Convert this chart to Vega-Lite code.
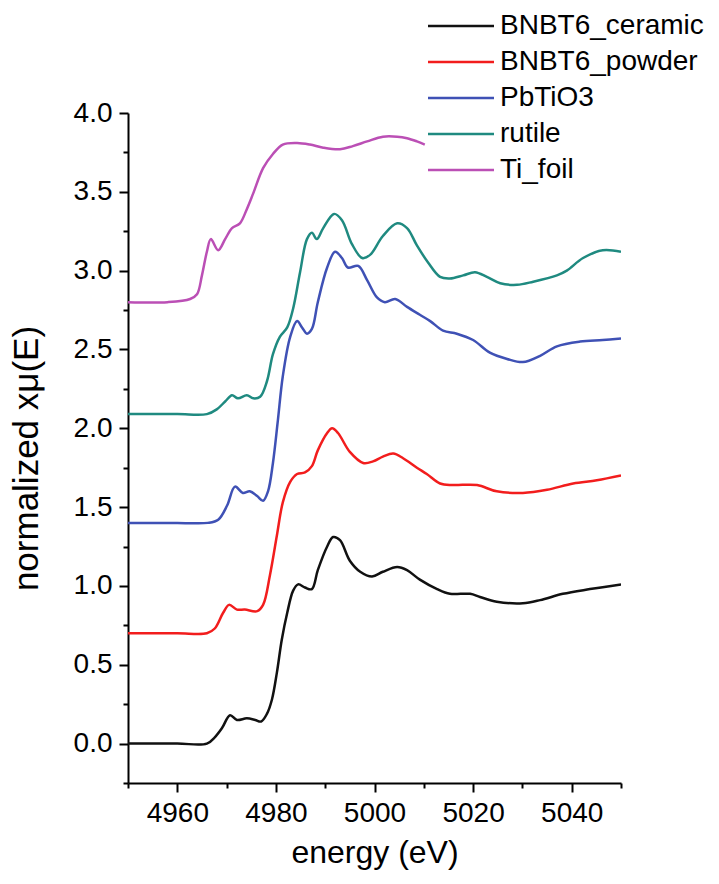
{
  "$schema": "https://vega.github.io/schema/vega-lite/v6.json",
  "autosize": "none",
  "padding": {"left": 128, "top": 113, "right": 98, "bottom": 101},
  "width": 493,
  "height": 670,
  "background": "white",
  "config": {
    "view": {"stroke": null},
    "font": "Liberation Sans",
    "axis": {"domainColor": "black", "tickColor": "black", "labelColor": "black", "titleColor": "black", "grid": false, "domainWidth": 2, "tickWidth": 2, "labelFont": "Liberation Sans", "titleFont": "Liberation Sans", "titleFontWeight": "normal"},
    "legend": {"labelFont": "Liberation Sans"}
  },
  "data": {"values": [
    {"s":"BNBT6_ceramic","e":4950,"v":0},{"s":"BNBT6_ceramic","e":4960,"v":0},{"s":"BNBT6_ceramic","e":4966,"v":0.0},{"s":"BNBT6_ceramic","e":4967.6,"v":0.04},{"s":"BNBT6_ceramic","e":4969.1,"v":0.10},{"s":"BNBT6_ceramic","e":4970.7,"v":0.18},{"s":"BNBT6_ceramic","e":4972.1,"v":0.15},{"s":"BNBT6_ceramic","e":4974.1,"v":0.16},{"s":"BNBT6_ceramic","e":4975.8,"v":0.15},{"s":"BNBT6_ceramic","e":4977,"v":0.14},{"s":"BNBT6_ceramic","e":4978.2,"v":0.19},{"s":"BNBT6_ceramic","e":4979.2,"v":0.28},{"s":"BNBT6_ceramic","e":4980.2,"v":0.45},{"s":"BNBT6_ceramic","e":4981.2,"v":0.66},{"s":"BNBT6_ceramic","e":4982.3,"v":0.83},{"s":"BNBT6_ceramic","e":4983.5,"v":0.97},{"s":"BNBT6_ceramic","e":4984.5,"v":1.01},{"s":"BNBT6_ceramic","e":4985.9,"v":0.99},{"s":"BNBT6_ceramic","e":4987.3,"v":0.98},{"s":"BNBT6_ceramic","e":4988.5,"v":1.10},{"s":"BNBT6_ceramic","e":4990.4,"v":1.25},{"s":"BNBT6_ceramic","e":4991.6,"v":1.31},{"s":"BNBT6_ceramic","e":4993,"v":1.29},{"s":"BNBT6_ceramic","e":4995,"v":1.16},{"s":"BNBT6_ceramic","e":4997.1,"v":1.09},{"s":"BNBT6_ceramic","e":4999.5,"v":1.06},{"s":"BNBT6_ceramic","e":5001.7,"v":1.09},{"s":"BNBT6_ceramic","e":5004.6,"v":1.12},{"s":"BNBT6_ceramic","e":5006.6,"v":1.10},{"s":"BNBT6_ceramic","e":5009.2,"v":1.04},{"s":"BNBT6_ceramic","e":5012.7,"v":0.98},{"s":"BNBT6_ceramic","e":5015.3,"v":0.95},{"s":"BNBT6_ceramic","e":5019.4,"v":0.95},{"s":"BNBT6_ceramic","e":5021.4,"v":0.93},{"s":"BNBT6_ceramic","e":5024.8,"v":0.90},{"s":"BNBT6_ceramic","e":5030.1,"v":0.89},{"s":"BNBT6_ceramic","e":5033.6,"v":0.91},{"s":"BNBT6_ceramic","e":5038.2,"v":0.95},{"s":"BNBT6_ceramic","e":5043.7,"v":0.98},{"s":"BNBT6_ceramic","e":5050,"v":1.01},

    {"s":"BNBT6_powder","e":4950,"v":0.70},{"s":"BNBT6_powder","e":4960,"v":0.70},{"s":"BNBT6_powder","e":4966,"v":0.70},{"s":"BNBT6_powder","e":4967.6,"v":0.73},{"s":"BNBT6_powder","e":4969.3,"v":0.83},{"s":"BNBT6_powder","e":4970.5,"v":0.88},{"s":"BNBT6_powder","e":4972.1,"v":0.85},{"s":"BNBT6_powder","e":4973.7,"v":0.85},{"s":"BNBT6_powder","e":4976.2,"v":0.84},{"s":"BNBT6_powder","e":4977.4,"v":0.88},{"s":"BNBT6_powder","e":4978.8,"v":1.07},{"s":"BNBT6_powder","e":4980.2,"v":1.32},{"s":"BNBT6_powder","e":4981.4,"v":1.53},{"s":"BNBT6_powder","e":4982.9,"v":1.66},{"s":"BNBT6_powder","e":4984.3,"v":1.71},{"s":"BNBT6_powder","e":4985.9,"v":1.72},{"s":"BNBT6_powder","e":4987.3,"v":1.76},{"s":"BNBT6_powder","e":4988.5,"v":1.86},{"s":"BNBT6_powder","e":4990.4,"v":1.97},{"s":"BNBT6_powder","e":4991.4,"v":2.00},{"s":"BNBT6_powder","e":4992.6,"v":1.97},{"s":"BNBT6_powder","e":4995,"v":1.85},{"s":"BNBT6_powder","e":4997.7,"v":1.78},{"s":"BNBT6_powder","e":4999.7,"v":1.79},{"s":"BNBT6_powder","e":5001.7,"v":1.82},{"s":"BNBT6_powder","e":5003.8,"v":1.84},{"s":"BNBT6_powder","e":5005.8,"v":1.81},{"s":"BNBT6_powder","e":5008.6,"v":1.75},{"s":"BNBT6_powder","e":5010.6,"v":1.71},{"s":"BNBT6_powder","e":5013.3,"v":1.65},{"s":"BNBT6_powder","e":5015.9,"v":1.64},{"s":"BNBT6_powder","e":5020.8,"v":1.64},{"s":"BNBT6_powder","e":5024.8,"v":1.60},{"s":"BNBT6_powder","e":5030.1,"v":1.59},{"s":"BNBT6_powder","e":5035,"v":1.61},{"s":"BNBT6_powder","e":5040.3,"v":1.65},{"s":"BNBT6_powder","e":5045.1,"v":1.67},{"s":"BNBT6_powder","e":5050,"v":1.70},

    {"s":"PbTiO3","e":4950,"v":1.40},{"s":"PbTiO3","e":4960,"v":1.40},{"s":"PbTiO3","e":4966.2,"v":1.40},{"s":"PbTiO3","e":4968.3,"v":1.42},{"s":"PbTiO3","e":4970.1,"v":1.51},{"s":"PbTiO3","e":4971.7,"v":1.63},{"s":"PbTiO3","e":4973.3,"v":1.59},{"s":"PbTiO3","e":4974.7,"v":1.60},{"s":"PbTiO3","e":4976.2,"v":1.57},{"s":"PbTiO3","e":4977.4,"v":1.54},{"s":"PbTiO3","e":4978.4,"v":1.60},{"s":"PbTiO3","e":4979.4,"v":1.78},{"s":"PbTiO3","e":4980.4,"v":2.05},{"s":"PbTiO3","e":4981.4,"v":2.33},{"s":"PbTiO3","e":4982.9,"v":2.58},{"s":"PbTiO3","e":4984.3,"v":2.68},{"s":"PbTiO3","e":4985.3,"v":2.64},{"s":"PbTiO3","e":4986.3,"v":2.60},{"s":"PbTiO3","e":4987.3,"v":2.63},{"s":"PbTiO3","e":4988.5,"v":2.80},{"s":"PbTiO3","e":4990.4,"v":3.02},{"s":"PbTiO3","e":4992,"v":3.12},{"s":"PbTiO3","e":4993.4,"v":3.08},{"s":"PbTiO3","e":4994.6,"v":3.02},{"s":"PbTiO3","e":4996.7,"v":3.03},{"s":"PbTiO3","e":4998.5,"v":2.94},{"s":"PbTiO3","e":5000.5,"v":2.83},{"s":"PbTiO3","e":5002.1,"v":2.80},{"s":"PbTiO3","e":5004.2,"v":2.82},{"s":"PbTiO3","e":5006.6,"v":2.77},{"s":"PbTiO3","e":5009.2,"v":2.72},{"s":"PbTiO3","e":5011.3,"v":2.68},{"s":"PbTiO3","e":5013.9,"v":2.62},{"s":"PbTiO3","e":5016.7,"v":2.60},{"s":"PbTiO3","e":5020,"v":2.56},{"s":"PbTiO3","e":5023.4,"v":2.48},{"s":"PbTiO3","e":5026.9,"v":2.44},{"s":"PbTiO3","e":5030.1,"v":2.42},{"s":"PbTiO3","e":5033.6,"v":2.46},{"s":"PbTiO3","e":5037,"v":2.52},{"s":"PbTiO3","e":5041.7,"v":2.55},{"s":"PbTiO3","e":5046.3,"v":2.56},{"s":"PbTiO3","e":5050,"v":2.57},

    {"s":"rutile","e":4950,"v":2.09},{"s":"rutile","e":4960,"v":2.09},{"s":"rutile","e":4966,"v":2.09},{"s":"rutile","e":4968,"v":2.12},{"s":"rutile","e":4969.7,"v":2.17},{"s":"rutile","e":4971.1,"v":2.21},{"s":"rutile","e":4972.3,"v":2.19},{"s":"rutile","e":4974.1,"v":2.21},{"s":"rutile","e":4975.4,"v":2.19},{"s":"rutile","e":4976.8,"v":2.20},{"s":"rutile","e":4978.2,"v":2.30},{"s":"rutile","e":4979.4,"v":2.47},{"s":"rutile","e":4980.8,"v":2.58},{"s":"rutile","e":4982.3,"v":2.64},{"s":"rutile","e":4983.5,"v":2.76},{"s":"rutile","e":4984.9,"v":2.99},{"s":"rutile","e":4986.3,"v":3.20},{"s":"rutile","e":4987.3,"v":3.24},{"s":"rutile","e":4988.3,"v":3.20},{"s":"rutile","e":4989.6,"v":3.27},{"s":"rutile","e":4991.8,"v":3.36},{"s":"rutile","e":4993.4,"v":3.32},{"s":"rutile","e":4995.4,"v":3.17},{"s":"rutile","e":4997.5,"v":3.08},{"s":"rutile","e":4999.1,"v":3.10},{"s":"rutile","e":5001.7,"v":3.22},{"s":"rutile","e":5004.6,"v":3.30},{"s":"rutile","e":5006.6,"v":3.27},{"s":"rutile","e":5008.6,"v":3.16},{"s":"rutile","e":5010.9,"v":3.05},{"s":"rutile","e":5013.3,"v":2.96},{"s":"rutile","e":5015.3,"v":2.95},{"s":"rutile","e":5018,"v":2.97},{"s":"rutile","e":5020.4,"v":2.99},{"s":"rutile","e":5022.8,"v":2.96},{"s":"rutile","e":5025.5,"v":2.92},{"s":"rutile","e":5028.9,"v":2.91},{"s":"rutile","e":5032.2,"v":2.93},{"s":"rutile","e":5037,"v":2.97},{"s":"rutile","e":5039,"v":3.00},{"s":"rutile","e":5042.3,"v":3.08},{"s":"rutile","e":5046.3,"v":3.13},{"s":"rutile","e":5050,"v":3.12},

    {"s":"Ti_foil","e":4950,"v":2.80},{"s":"Ti_foil","e":4958,"v":2.80},{"s":"Ti_foil","e":4962.6,"v":2.82},{"s":"Ti_foil","e":4964,"v":2.85},{"s":"Ti_foil","e":4965,"v":2.97},{"s":"Ti_foil","e":4966,"v":3.12},{"s":"Ti_foil","e":4966.8,"v":3.20},{"s":"Ti_foil","e":4968.3,"v":3.13},{"s":"Ti_foil","e":4969.7,"v":3.20},{"s":"Ti_foil","e":4971.1,"v":3.27},{"s":"Ti_foil","e":4972.7,"v":3.30},{"s":"Ti_foil","e":4974.1,"v":3.39},{"s":"Ti_foil","e":4975.4,"v":3.49},{"s":"Ti_foil","e":4977.4,"v":3.65},{"s":"Ti_foil","e":4979.4,"v":3.74},{"s":"Ti_foil","e":4981.4,"v":3.80},{"s":"Ti_foil","e":4984.3,"v":3.81},{"s":"Ti_foil","e":4986.9,"v":3.80},{"s":"Ti_foil","e":4989.6,"v":3.78},{"s":"Ti_foil","e":4993,"v":3.77},{"s":"Ti_foil","e":4995.6,"v":3.79},{"s":"Ti_foil","e":4998.5,"v":3.82},{"s":"Ti_foil","e":5001.7,"v":3.85},{"s":"Ti_foil","e":5004.6,"v":3.85},{"s":"Ti_foil","e":5006.6,"v":3.84},{"s":"Ti_foil","e":5008.6,"v":3.82},{"s":"Ti_foil","e":5010.2,"v":3.80}
  ]},
  "mark": {"type": "line", "strokeWidth": 2.5, "interpolate": "catmull-rom", "clip": true},
  "encoding": {
    "x": {
      "field": "e", "type": "quantitative",
      "scale": {"domain": [4950, 5050], "nice": false, "zero": false},
      "axis": {
        "title": "energy (eV)", "titleFontSize": 32, "titlePadding": 10,
        "values": [4950, 4960, 4970, 4980, 4990, 5000, 5010, 5020, 5030, 5040, 5050],
        "labelExpr": "datum.value % 20 === 0 ? format(datum.value, 'd') : ''",
        "labelFontSize": 28, "labelPadding": 7, "labelFlush": false, "labelOverlap": false,
        "tickSize": {"condition": {"test": "datum.value % 20 === 0", "value": 9}, "value": 5}
      }
    },
    "y": {
      "field": "v", "type": "quantitative",
      "scale": {"domain": [-0.25, 4.0], "nice": false, "zero": false},
      "axis": {
        "title": "normalized xμ(E)", "titleFontSize": 35, "titlePadding": 29, "titleY": 345,
        "values": [-0.25, 0, 0.25, 0.5, 0.75, 1, 1.25, 1.5, 1.75, 2, 2.25, 2.5, 2.75, 3, 3.25, 3.5, 3.75, 4],
        "labelExpr": "(datum.value * 2) % 1 === 0 ? format(datum.value, '.1f') : ''",
        "labelFontSize": 28, "labelPadding": 7, "labelFlush": false, "labelOverlap": false,
        "tickSize": {"condition": {"test": "(datum.value * 2) % 1 === 0", "value": 9}, "value": 5}
      }
    },
    "color": {
      "field": "s", "type": "nominal",
      "scale": {
        "domain": ["BNBT6_ceramic", "BNBT6_powder", "PbTiO3", "rutile", "Ti_foil"],
        "range": ["#111111", "#f21d1d", "#3f51b5", "#1f8a80", "#bb4fb5"]
      },
      "legend": {
        "title": null, "orient": "none", "legendX": 319, "legendY": -101,
        "padding": 0, "labelFontSize": 28, "labelColor": "black", "labelLimit": 0,
        "symbolType": "M-4.125,0H4.125", "symbolSize": 256, "symbolStrokeWidth": 2.5,
        "rowPadding": 8, "labelOffset": 25
      }
    }
  }
}
